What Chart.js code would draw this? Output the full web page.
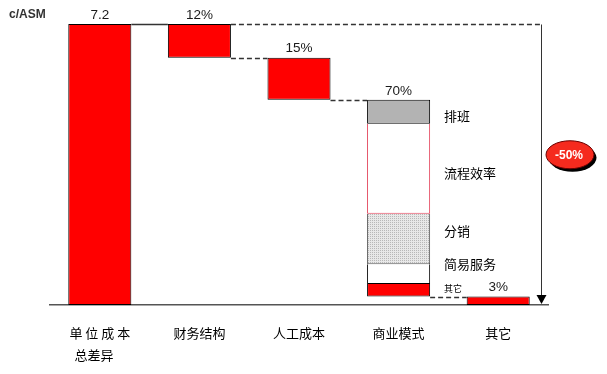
<!DOCTYPE html>
<html><head><meta charset="utf-8">
<script src="https://cdn.jsdelivr.net/npm/chart.js@4.4.1/dist/chart.umd.min.js"></script>
<style>html,body{margin:0;padding:0;background:#fff;}#wrap{width:607px;height:374px;}</style>
</head><body><div id="wrap"><canvas id="c" width="607" height="374"></canvas></div>
<script>
// ---- data ----
const categories = [['单 位 成 本', '总差异    '], '财务结构', '人工成本', '商业模式', '其它'];
const unitLabel = 'c/ASM';
const totalValue = 7.2;                 // c/ASM
const stepShares = [12, 15, 70, 3];      // % of total gap: 财务结构, 人工成本, 商业模式, 其它
const valueLabels = ['7.2', '12%', '15%', '70%', '3%'];
const segmentNames = ['排班', '流程效率', '分销', '简易服务', '其它'];
const segmentShares = [8.5, 32, 18, 7, 4.5]; // breakdown of 商业模式 (sum 70)
const totalChangeLabel = '-50%';

// ---- styles ----
const RED = '#FF0000';
const FONT_CJK = '"Noto Sans CJK SC", "Noto Sans", sans-serif';
const FONT_LAT = '"Liberation Sans", Arial, sans-serif';
const segLabelNudge = [4, 4, -8, -10, -2];

function dotPattern() {
  const p = document.createElement('canvas'); p.width = 2; p.height = 2;
  const g = p.getContext('2d');
  g.fillStyle = '#E8E8E8'; g.fillRect(0, 0, 2, 2);
  g.fillStyle = '#B8B8B8'; g.fillRect(0, 0, 1, 1);
  return g.createPattern(p, 'repeat');
}
const segFill = ['#B3B3B3', '#FFFFFF', null, '#FFFFFF', RED];
const segBorder = ['#000000', '#E23D55', '#555555', '#000000', '#000000'];

// ---- build waterfall ranges ----
const full = 100;
const ranges = [[0, full]];
let level = full;
stepShares.forEach(s => { ranges.push([level - s, level]); level -= s; });
const bizIndex = 3;
const mainData = ranges.map((r, i) => i === bizIndex ? null : r);
const segRanges = [];
let segLevel = ranges[bizIndex][1];
segmentShares.forEach(s => { segRanges.push([segLevel - s, segLevel]); segLevel -= s; });

const datasets = [{
  label: 'main', data: mainData, backgroundColor: RED, borderColor: '#000', borderWidth: 1,
  borderSkipped: false, grouped: false
}];
const pattern = dotPattern();
segmentNames.forEach((n, k) => {
  datasets.push({
    label: n,
    data: categories.map((c, i) => i === bizIndex ? segRanges[k] : null),
    backgroundColor: segFill[k] || pattern, borderColor: segBorder[k], borderWidth: 1,
    borderSkipped: k === 0 ? false : 'top', grouped: false
  });
});

const annot = {
  id: 'annot',
  afterDatasetsDraw(chart) {
    const ctx = chart.ctx, ys = chart.scales.y, ca = chart.chartArea;
    const barEl = i => chart.getDatasetMeta(i === bizIndex ? 1 : 0).data[i];
    const left = i => barEl(i).x - barEl(i).width / 2;
    const right = i => barEl(i).x + barEl(i).width / 2;
    const arrowX = ca.right - 7;
    ctx.save();
    ctx.strokeStyle = '#333'; ctx.lineWidth = 1.3;
    // connectors
    for (let i = 0; i < ranges.length - 1; i++) {
      const yy = Math.round(ys.getPixelForValue(ranges[i + 1][1])) + 0.5;
      ctx.setLineDash(i === 0 ? [] : [5, 3]);
      ctx.beginPath(); ctx.moveTo(right(i), yy); ctx.lineTo(left(i + 1), yy); ctx.stroke();
    }
    const yTop = Math.round(ys.getPixelForValue(full)) + 0.5;
    ctx.setLineDash([5, 3]);
    ctx.beginPath(); ctx.moveTo(right(1), yTop); ctx.lineTo(arrowX, yTop); ctx.stroke();
    // arrow
    ctx.setLineDash([]);
    const y0 = ys.getPixelForValue(0);
    ctx.lineWidth = 1;
    ctx.beginPath(); ctx.moveTo(arrowX + 0.5, yTop); ctx.lineTo(arrowX + 0.5, y0 - 6); ctx.stroke();
    ctx.fillStyle = '#000';
    ctx.beginPath(); ctx.moveTo(arrowX + 0.5, y0 - 1); ctx.lineTo(arrowX - 4.5, y0 - 10); ctx.lineTo(arrowX + 5.5, y0 - 10); ctx.closePath(); ctx.fill();
    // value labels
    ctx.fillStyle = '#1a1a1a'; ctx.textAlign = 'center'; ctx.textBaseline = 'middle';
    ctx.font = '13.5px ' + FONT_LAT;
    ranges.forEach((r, i) => {
      ctx.fillText(valueLabels[i], barEl(i).x, ys.getPixelForValue(r[1]) - 9);
    });
    ctx.textAlign = 'left';
    ctx.font = 'bold 12px ' + FONT_LAT;
    ctx.fillStyle = '#333';
    ctx.fillText(unitLabel, 9, 15);
    // segment labels
    segRanges.forEach((r, k) => {
      const cy = (ys.getPixelForValue(r[0]) + ys.getPixelForValue(r[1])) / 2 + segLabelNudge[k];
      ctx.font = (k === segRanges.length - 1 ? '9px ' : '13px ') + FONT_CJK;
      ctx.fillStyle = '#000';
      ctx.fillText(segmentNames[k], right(bizIndex) + 14, cy);
    });
    // total change bubble
    const ex = arrowX + 29, ey = (yTop + y0) / 2 - 10;
    ctx.fillStyle = '#000';
    ctx.beginPath(); ctx.ellipse(ex + 2.5, ey + 3, 24, 14, 0, 0, Math.PI * 2); ctx.fill();
    ctx.fillStyle = '#F52A1E'; ctx.strokeStyle = '#600';
    ctx.beginPath(); ctx.ellipse(ex, ey, 24, 14, 0, 0, Math.PI * 2); ctx.fill(); ctx.stroke();
    ctx.fillStyle = '#fff'; ctx.textAlign = 'center';
    ctx.font = 'bold 12px ' + FONT_LAT;
    ctx.fillText(totalChangeLabel, ex - 1, ey + 0.5);
    ctx.restore();
  }
};

new Chart(document.getElementById('c'), {
  type: 'bar',
  data: { labels: categories, datasets },
  options: {
    responsive: false, animation: false, devicePixelRatio: 1,
    layout: { padding: { left: 50, right: 59, top: 24, bottom: 0 } },
    plugins: { legend: { display: false }, tooltip: { enabled: false } },
    datasets: { bar: { categoryPercentage: 1, barPercentage: 0.633 } },
    scales: {
      x: {
        grid: { display: false, drawTicks: false },
        border: { display: true, color: '#555', width: 1.5 },
        ticks: { color: '#000', font: { family: FONT_CJK, size: 13, lineHeight: 1.7 }, padding: 17, maxRotation: 0, autoSkip: false },
        afterFit: s => { s.height = 69; }
      },
      y: { display: false, min: 0, max: full }
    }
  },
  plugins: [annot]
});
</script></body></html>
